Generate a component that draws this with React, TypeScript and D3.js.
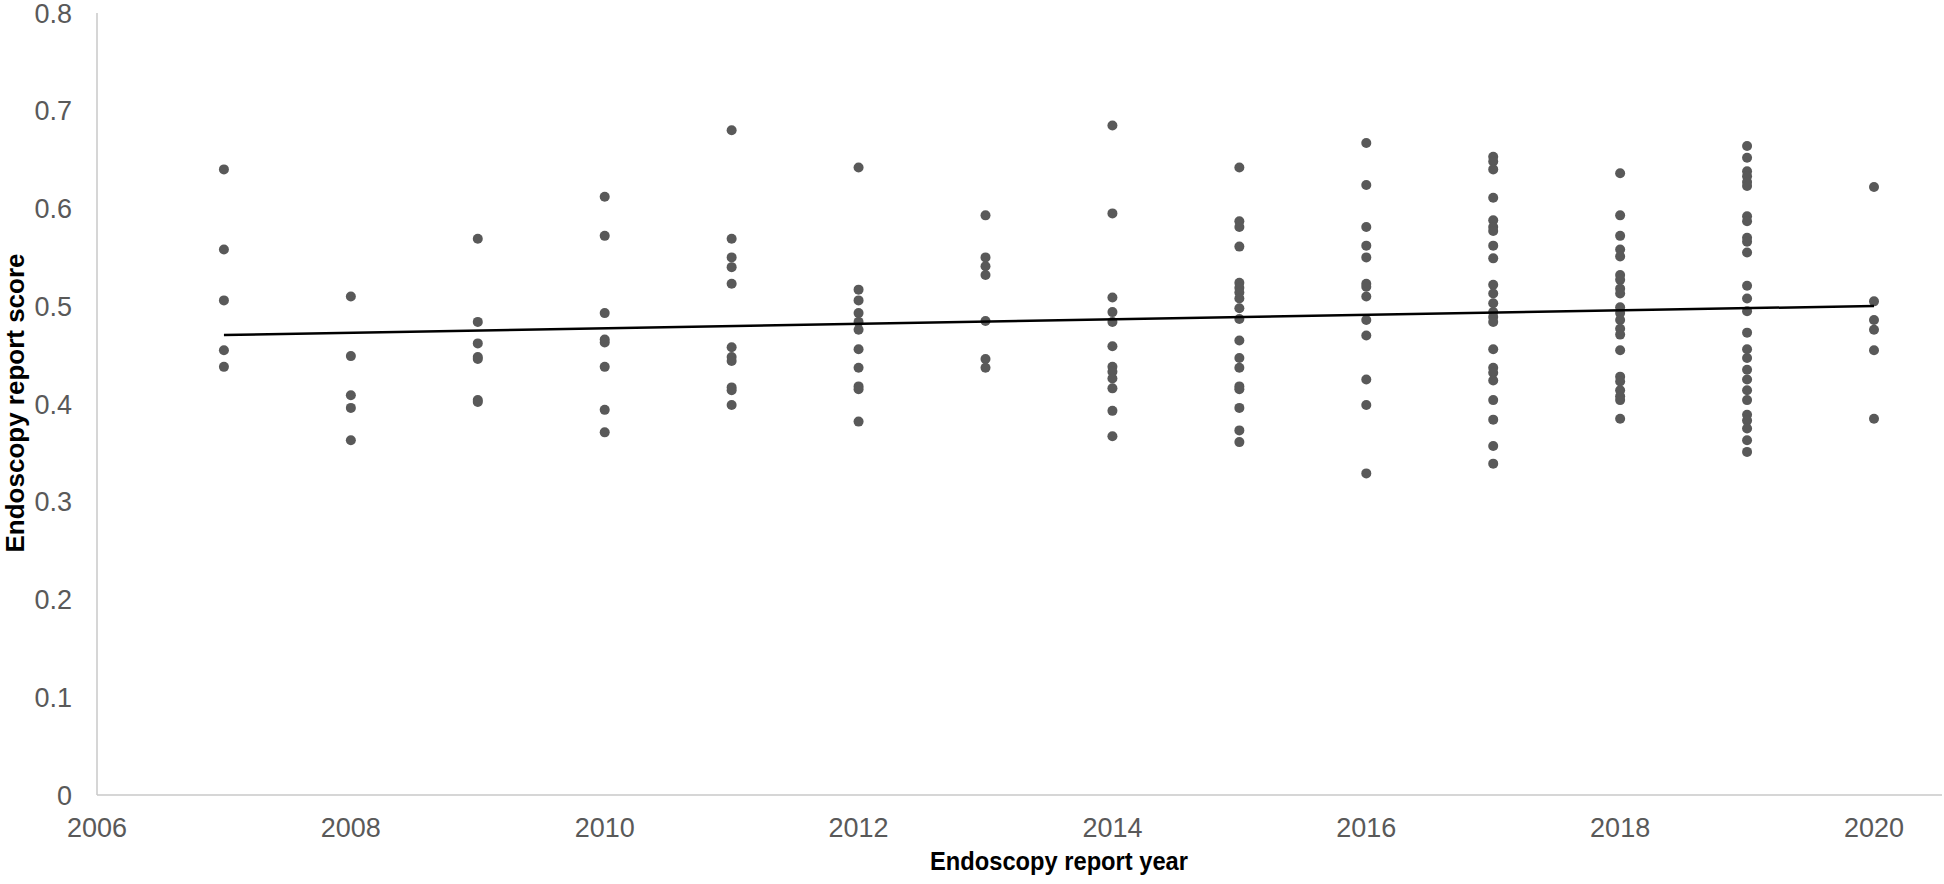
import React, { useRef, useEffect } from "react";
import * as d3 from "d3";

// report years (x) and the scores for each year
const years = [2007, 2008, 2009, 2010, 2011, 2012, 2013, 2014, 2015, 2016, 2017, 2018, 2019, 2020];
const scores2007 = [0.64, 0.558, 0.506, 0.455, 0.438];
const scores2008 = [0.51, 0.449, 0.409, 0.396, 0.363];
const scores2009 = [0.569, 0.484, 0.462, 0.448, 0.446, 0.404, 0.402];
const scores2010 = [0.612, 0.572, 0.493, 0.466, 0.463, 0.438, 0.394, 0.371];
const scores2011 = [0.68, 0.569, 0.55, 0.54, 0.523, 0.458, 0.448, 0.444, 0.417, 0.414, 0.399];
const scores2012 = [0.642, 0.517, 0.506, 0.493, 0.484, 0.476, 0.456, 0.437, 0.418, 0.415, 0.382];
const scores2013 = [0.593, 0.55, 0.541, 0.532, 0.485, 0.446, 0.437];
const scores2014 = [0.685, 0.595, 0.509, 0.494, 0.484, 0.459, 0.438, 0.433, 0.426, 0.416, 0.393, 0.367];
const scores2015 = [0.642, 0.587, 0.581, 0.561, 0.524, 0.519, 0.514, 0.508, 0.498, 0.487, 0.465, 0.447, 0.437, 0.418, 0.415, 0.396, 0.373, 0.361];
const scores2016 = [0.667, 0.624, 0.581, 0.562, 0.55, 0.523, 0.52, 0.51, 0.486, 0.47, 0.425, 0.399, 0.329];
const scores2017 = [0.653, 0.648, 0.64, 0.611, 0.588, 0.581, 0.577, 0.562, 0.549, 0.522, 0.513, 0.503, 0.494, 0.489, 0.484, 0.456, 0.437, 0.432, 0.424, 0.404, 0.384, 0.357, 0.339];
const scores2018 = [0.636, 0.593, 0.572, 0.558, 0.551, 0.532, 0.527, 0.518, 0.513, 0.499, 0.493, 0.486, 0.477, 0.471, 0.455, 0.428, 0.423, 0.414, 0.408, 0.404, 0.385];
const scores2019 = [0.664, 0.652, 0.638, 0.633, 0.627, 0.623, 0.592, 0.587, 0.57, 0.566, 0.555, 0.521, 0.508, 0.495, 0.473, 0.456, 0.447, 0.435, 0.425, 0.414, 0.404, 0.389, 0.383, 0.375, 0.363, 0.351];
const scores2020 = [0.622, 0.505, 0.486, 0.476, 0.455, 0.385];
const scoresByYear = [scores2007, scores2008, scores2009, scores2010, scores2011, scores2012, scores2013,
  scores2014, scores2015, scores2016, scores2017, scores2018, scores2019, scores2020];

// linear trendline end points
const trendYears = [2007, 2020];
const trendValues = [0.4706, 0.5003];

const xTicks = [2006, 2008, 2010, 2012, 2014, 2016, 2018, 2020];
const yTicks = [0, 0.1, 0.2, 0.3, 0.4, 0.5, 0.6, 0.7, 0.8];

const W = 1944, H = 884;
const FONT = "'Liberation Sans', Arial, sans-serif";

const App = () => {
  const ref = useRef<SVGSVGElement>(null);

  useEffect(() => {
    const svg = d3.select(ref.current);
    svg.selectAll("*").remove();

    const x = d3.scaleLinear().domain([2006, 2020]).range([97, 1874]);
    const y = d3.scaleLinear().domain([0, 0.8]).range([795, 13]);

    // axes lines (no gridlines in the original)
    svg.append("line")
      .attr("x1", x(2006)).attr("x2", x(2006))
      .attr("y1", y(0.8)).attr("y2", y(0))
      .attr("stroke", "#c8c8c8").attr("stroke-width", 1.5);
    svg.append("line")
      .attr("x1", x(2006)).attr("x2", 1942)
      .attr("y1", y(0)).attr("y2", y(0))
      .attr("stroke", "#c8c8c8").attr("stroke-width", 1.5);

    svg.append("g").selectAll("text")
      .data(yTicks)
      .enter().append("text")
      .attr("x", 72)
      .attr("y", d => y(d))
      .attr("dy", "0.36em")
      .attr("text-anchor", "end")
      .attr("font-family", FONT).attr("font-size", 27)
      .attr("fill", "#595959")
      .text(d => (d === 0 ? "0" : d.toFixed(1)));

    svg.append("g").selectAll("text")
      .data(xTicks)
      .enter().append("text")
      .attr("x", d => x(d))
      .attr("y", 837)
      .attr("text-anchor", "middle")
      .attr("font-family", FONT).attr("font-size", 27)
      .attr("fill", "#595959")
      .text(d => d);

    // points
    const pts = years.flatMap((yr, i) => scoresByYear[i].map(v => ({ yr, v })));
    svg.append("g").selectAll("circle")
      .data(pts)
      .enter().append("circle")
      .attr("cx", d => x(d.yr))
      .attr("cy", d => y(d.v))
      .attr("r", 5)
      .attr("fill", "#595959");

    // trendline
    const line = d3.line<number>()
      .x((d, i) => x(trendYears[i]))
      .y(d => y(d));
    svg.append("path")
      .datum(trendValues)
      .attr("d", line)
      .attr("fill", "none")
      .attr("stroke", "#000")
      .attr("stroke-width", 2.5);

    // axis titles
    svg.append("text")
      .attr("x", 1059).attr("y", 870)
      .attr("text-anchor", "middle")
      .attr("font-family", FONT).attr("font-size", 25).attr("font-weight", "bold")
      .attr("fill", "#000")
      .attr("textLength", 258).attr("lengthAdjust", "spacingAndGlyphs")
      .text("Endoscopy report year");

    svg.append("text")
      .attr("transform", "translate(24,403) rotate(-90)")
      .attr("text-anchor", "middle")
      .attr("font-family", FONT).attr("font-size", 26).attr("font-weight", "bold")
      .attr("fill", "#000")
      .text("Endoscopy report score");
  }, []);

  return (
    <div style={{ position: "absolute", left: 0, top: 0 }}>
      <svg ref={ref} width={W} height={H} style={{ display: "block", background: "#fff" }}></svg>
    </div>
  );
};

export default App;
